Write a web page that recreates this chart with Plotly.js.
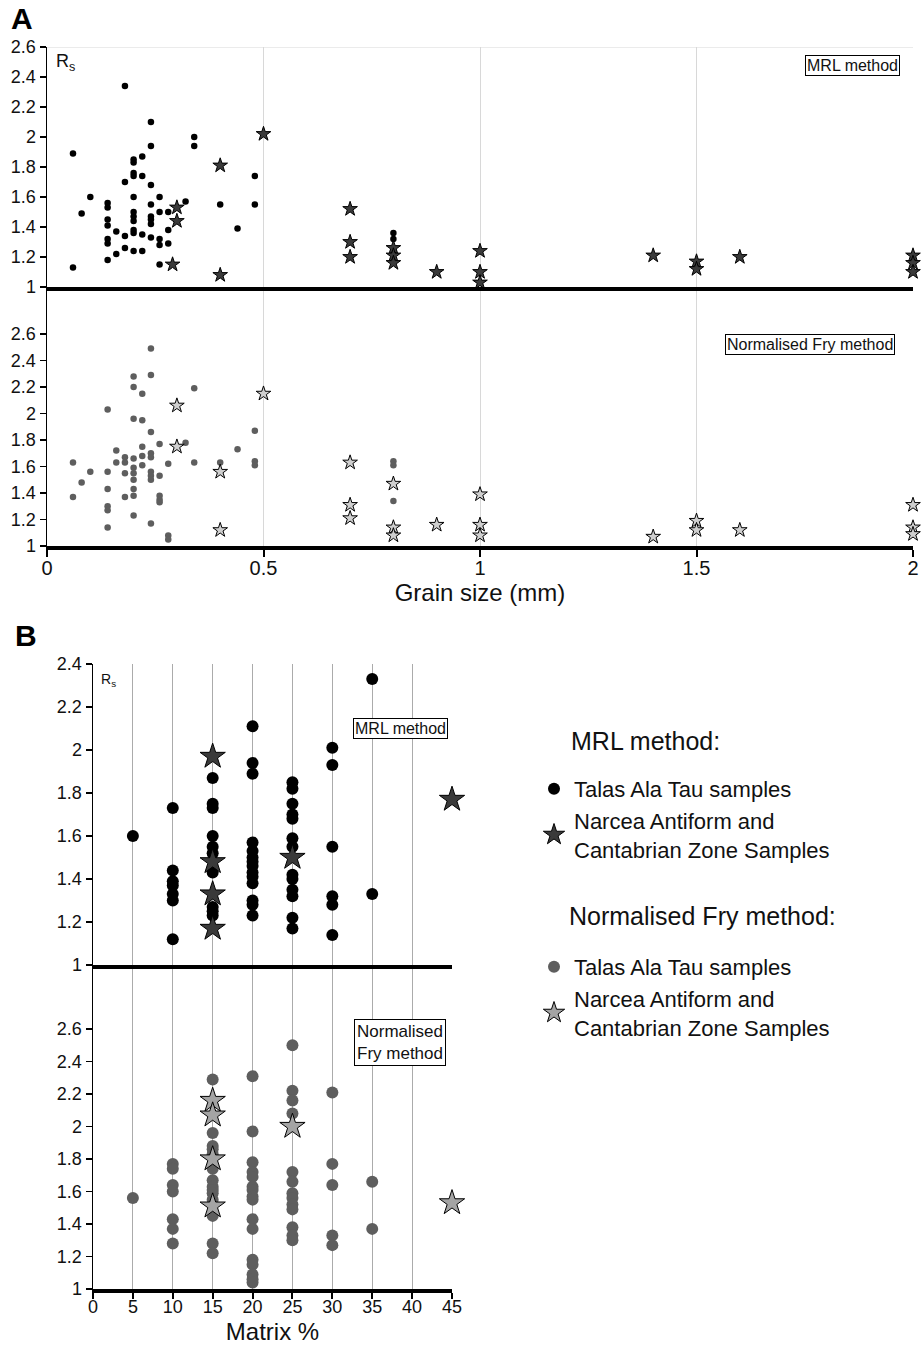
<!DOCTYPE html>
<html><head><meta charset="utf-8">
<script src="https://cdn.plot.ly/plotly-3.0.1.min.js"></script>
<style>html,body{margin:0;padding:0;background:#fff;}</style>
</head><body>
<div id="chart" style="width:922px;height:1345px;"></div>
<script>
// ---------------- DATA ----------------
// Panel A: grain size (mm) vs Rs
const grainTicks = [0, 0.5, 1, 1.5, 2];
const grainTickText = ['0', '0.5', '1', '1.5', '2'];
const rsTicksTop = [1, 1.2, 1.4, 1.6, 1.8, 2, 2.2, 2.4, 2.6];
const rsTicksTopText = ['1', '1.2', '1.4', '1.6', '1.8', '2', '2.2', '2.4', '2.6'];

// MRL method, Talas Ala Tau samples (panel A)
const grainMrlTalasX = [0.06,0.06,0.08,0.10,
  0.14,0.14,0.14,0.14,0.14,0.14,0.14,
  0.16,0.16,
  0.18,0.18,0.18,0.18,
  0.20,0.20,0.20,0.20,0.20,0.20,0.20,0.20,0.20,0.20,0.20,
  0.22,0.22,0.22,0.22,
  0.24,0.24,0.24,0.24,0.24,0.24,0.24,0.24,
  0.26,0.26,0.26,0.26,0.26,
  0.28,0.28,0.28,
  0.32,0.34,0.34,0.40,0.44,0.48,0.48,
  0.80,0.80,0.80];
const grainMrlTalasY = [1.89,1.13,1.49,1.60,
  1.56,1.53,1.45,1.41,1.32,1.29,1.18,
  1.37,1.22,
  2.34,1.70,1.34,1.26,
  1.85,1.83,1.76,1.74,1.60,1.50,1.47,1.44,1.38,1.36,1.24,
  1.87,1.74,1.35,1.24,
  2.10,1.94,1.68,1.55,1.47,1.45,1.42,1.33,
  1.60,1.50,1.32,1.28,1.15,
  1.50,1.38,1.29,
  1.57,2.00,1.94,1.55,1.39,1.74,1.55,
  1.36,1.32,1.24];
// MRL method, Narcea Antiform and Cantabrian Zone samples (panel A)
const grainMrlNarceaX = [0.30,0.30,0.29,0.40,0.40,0.50,0.70,0.70,0.70,0.80,0.80,0.80,0.90,1.00,1.00,1.00,1.40,1.50,1.50,1.60,2.00,2.00,2.00];
const grainMrlNarceaY = [1.53,1.44,1.15,1.81,1.08,2.02,1.52,1.30,1.20,1.26,1.21,1.16,1.10,1.24,1.10,1.03,1.21,1.17,1.12,1.20,1.21,1.16,1.10];

// Normalised Fry method, Talas Ala Tau samples (panel A)
const grainFryTalasX = [0.06,0.06,0.08,0.10,
  0.14,0.14,0.14,0.14,0.14,0.14,
  0.16,0.16,
  0.18,0.18,0.18,0.18,
  0.20,0.20,0.20,0.20,0.20,0.20,0.20,0.20,0.20,0.20,
  0.22,0.22,0.22,0.22,0.22,
  0.24,0.24,0.24,0.24,0.24,0.24,0.24,0.24,0.24,
  0.26,0.26,0.26,0.26,0.26,
  0.28,0.28,0.28,
  0.32,0.34,0.34,0.40,0.44,0.48,0.48,0.48,
  0.80,0.80,0.80];
const grainFryTalasY = [1.63,1.37,1.48,1.56,
  2.03,1.56,1.43,1.30,1.27,1.14,
  1.72,1.63,
  1.67,1.63,1.55,1.37,
  2.28,2.20,1.96,1.66,1.59,1.55,1.50,1.43,1.38,1.23,
  2.15,1.95,1.75,1.68,1.61,
  2.49,2.29,1.86,1.70,1.67,1.56,1.53,1.50,1.17,
  1.77,1.53,1.38,1.35,1.33,
  1.62,1.08,1.05,
  1.78,2.19,1.63,1.63,1.73,1.87,1.64,1.61,
  1.64,1.61,1.34];
// Normalised Fry method, Narcea Antiform and Cantabrian Zone samples (panel A)
const grainFryNarceaX = [0.30,0.30,0.40,0.40,0.50,0.70,0.70,0.70,0.80,0.80,0.80,0.90,1.00,1.00,1.00,1.40,1.50,1.50,1.60,2.00,2.00,2.00];
const grainFryNarceaY = [2.06,1.75,1.56,1.12,2.15,1.63,1.31,1.21,1.47,1.14,1.08,1.16,1.39,1.16,1.08,1.07,1.19,1.12,1.12,1.31,1.14,1.09];

// Panel B: matrix % vs Rs
const matrixTicks = [0, 5, 10, 15, 20, 25, 30, 35, 40, 45];
const matrixTickText = ['0','5','10','15','20','25','30','35','40','45'];
const rsTicksB = [1, 1.2, 1.4, 1.6, 1.8, 2, 2.2, 2.4];
const rsTicksBText = ['1','1.2','1.4','1.6','1.8','2','2.2','2.4'];

const matrixMrlTalasX = [5,
  10,10,10,10,10,10,10,
  15,15,15,15,15,15,15,15,15,15,
  20,20,20,20,20,20,20,20,20,20,20,20,20,20,
  25,25,25,25,25,25,25,25,25,25,25,25,25,
  30,30,30,30,30,30,
  35,35];
const matrixMrlTalasY = [1.60,
  1.73,1.44,1.39,1.37,1.33,1.30,1.12,
  1.87,1.75,1.73,1.60,1.55,1.52,1.43,1.27,1.25,1.23,
  2.11,1.94,1.89,1.57,1.53,1.50,1.48,1.46,1.43,1.41,1.38,1.30,1.28,1.23,
  1.85,1.82,1.75,1.70,1.68,1.59,1.55,1.42,1.40,1.35,1.32,1.22,1.17,
  2.01,1.93,1.55,1.32,1.28,1.14,
  2.33,1.33];
const matrixMrlNarceaX = [15,15,15,15,25,45];
const matrixMrlNarceaY = [1.97,1.48,1.33,1.17,1.50,1.77];

const matrixFryTalasX = [5,
  10,10,10,10,10,10,10,
  15,15,15,15,15,15,15,15,15,15,15,15,15,15,
  20,20,20,20,20,20,20,20,20,20,20,20,20,20,20,20,
  25,25,25,25,25,25,25,25,25,25,25,25,25,
  30,30,30,30,30,
  35,35];
const matrixFryTalasY = [1.56,
  1.77,1.74,1.64,1.60,1.43,1.37,1.28,
  2.29,1.96,1.88,1.86,1.83,1.74,1.67,1.63,1.61,1.59,1.55,1.45,1.28,1.22,
  2.31,1.97,1.78,1.72,1.69,1.63,1.61,1.57,1.55,1.43,1.37,1.18,1.15,1.09,1.06,1.04,
  2.50,2.22,2.16,2.08,1.72,1.66,1.59,1.56,1.52,1.49,1.38,1.33,1.30,
  2.21,1.77,1.64,1.33,1.27,
  1.66,1.37];
const matrixFryNarceaX = [15,15,15,15,25,45];
const matrixFryNarceaY = [2.16,2.07,1.80,1.51,2.00,1.53];

const seriesNames = ['Talas Ala Tau samples', 'Narcea Antiform and<br>Cantabrian Zone Samples'];

// ---------------- LAYOUT HELPERS ----------------
const W = 922, H = 1345;
const px = v => v / W;
const py = v => 1 - v / H;
const FONT = '"Liberation Sans", Arial, Helvetica, sans-serif';
const INK = '#111';

const dotMrl = '#000000', dotFry = '#5e5e5e';
const starMrl = '#3a3a3a', starFryA = '#cfcfcf', starFryB = '#a4a4a4';

const traces = [
  {x: grainMrlTalasX, y: grainMrlTalasY, xaxis: 'x2', yaxis: 'y', type: 'scatter', mode: 'markers',
   marker: {color: dotMrl, size: 6.5}, showlegend: false, cliponaxis: false},
  {x: grainMrlNarceaX, y: grainMrlNarceaY, xaxis: 'x2', yaxis: 'y', type: 'scatter', mode: 'markers',
   marker: {symbol: 'star', color: starMrl, size: 11, line: {color: '#000', width: 1}}, showlegend: false, cliponaxis: false},
  {x: grainFryTalasX, y: grainFryTalasY, xaxis: 'x', yaxis: 'y2', type: 'scatter', mode: 'markers',
   marker: {color: dotFry, size: 6.5}, showlegend: false, cliponaxis: false},
  {x: grainFryNarceaX, y: grainFryNarceaY, xaxis: 'x', yaxis: 'y2', type: 'scatter', mode: 'markers',
   marker: {symbol: 'star', color: starFryA, size: 11, line: {color: '#000', width: 1}}, showlegend: false, cliponaxis: false},

  {x: matrixMrlTalasX, y: matrixMrlTalasY, xaxis: 'x4', yaxis: 'y3', type: 'scatter', mode: 'markers',
   name: seriesNames[0], legend: 'legend',
   marker: {color: dotMrl, size: 12}, cliponaxis: false},
  {x: matrixMrlNarceaX, y: matrixMrlNarceaY, xaxis: 'x4', yaxis: 'y3', type: 'scatter', mode: 'markers',
   name: seriesNames[1], legend: 'legend',
   marker: {symbol: 'star', color: starMrl, size: 19, line: {color: '#000', width: 1}}, cliponaxis: false},
  {x: matrixFryTalasX, y: matrixFryTalasY, xaxis: 'x3', yaxis: 'y4', type: 'scatter', mode: 'markers',
   name: seriesNames[0], legend: 'legend2',
   marker: {color: dotFry, size: 12}, cliponaxis: false},
  {x: matrixFryNarceaX, y: matrixFryNarceaY, xaxis: 'x3', yaxis: 'y4', type: 'scatter', mode: 'markers',
   name: seriesNames[1], legend: 'legend2',
   marker: {symbol: 'star', color: starFryB, size: 19, line: {color: '#000', width: 1}}, cliponaxis: false}
];

const yBase = {
  showgrid: false, zeroline: false, showline: true, linecolor: '#000', linewidth: 1.5,
  ticks: 'outside', ticklen: 6, tickwidth: 1.5, tickcolor: '#000',
  tickfont: {family: FONT, size: 18, color: INK}, fixedrange: true
};

const layout = {
  width: W, height: H, autosize: false,
  margin: {l: 0, r: 0, t: 0, b: 0, pad: 0},
  paper_bgcolor: '#fff', plot_bgcolor: 'rgba(0,0,0,0)',
  font: {family: FONT, color: INK},
  showlegend: true,
  // Panel A
  xaxis: {
    domain: [px(47), px(913)], range: [0, 2], anchor: 'y2',
    tickvals: grainTicks, ticktext: grainTickText,
    showgrid: true, gridcolor: '#d8d8d8', gridwidth: 1, zeroline: false,
    showline: true, linecolor: '#000', linewidth: 4,
    ticks: 'outside', ticklen: 7, tickwidth: 2, tickcolor: '#000',
    tickfont: {family: FONT, size: 20, color: INK}, ticklabelstandoff: -6,
    title: {text: 'Grain size (mm)', font: {family: FONT, size: 24, color: INK}, standoff: 4}
  },
  xaxis2: {
    domain: [px(47), px(913)], range: [0, 2], anchor: 'y', matches: 'x',
    tickvals: grainTicks, showticklabels: false, ticks: '',
    showgrid: true, gridcolor: '#d8d8d8', gridwidth: 1, zeroline: false,
    showline: true, linecolor: '#000', linewidth: 4
  },
  yaxis: Object.assign({}, yBase, {
    domain: [py(287), py(47)], range: [1, 2.6], anchor: 'x2',
    tickvals: rsTicksTop, ticktext: rsTicksTopText
  }),
  yaxis2: Object.assign({}, yBase, {
    domain: [py(546), py(287)], range: [1, 2.955], anchor: 'x',
    tickvals: rsTicksTop, ticktext: rsTicksTopText
  }),
  // Panel B
  xaxis3: {
    domain: [px(93), px(452)], range: [0, 45], anchor: 'y4',
    tickvals: matrixTicks, ticktext: matrixTickText,
    showgrid: true, gridcolor: '#ababab', gridwidth: 1.2, zeroline: false,
    showline: true, linecolor: '#000', linewidth: 4,
    ticks: 'outside', ticklen: 6, tickwidth: 2, tickcolor: '#000',
    tickfont: {family: FONT, size: 18, color: INK}, ticklabelstandoff: -8,
    title: {text: 'Matrix %', font: {family: FONT, size: 24, color: INK}, standoff: 11}
  },
  xaxis4: {
    domain: [px(93), px(452)], range: [0, 45], anchor: 'y3', matches: 'x3',
    tickvals: matrixTicks, showticklabels: false, ticks: '',
    showgrid: true, gridcolor: '#ababab', gridwidth: 1.2, zeroline: false,
    showline: true, linecolor: '#000', linewidth: 4
  },
  yaxis3: Object.assign({}, yBase, {
    domain: [py(965), py(664)], range: [1, 2.4], anchor: 'x4',
    tickvals: rsTicksB, ticktext: rsTicksBText
  }),
  yaxis4: Object.assign({}, yBase, {
    domain: [py(1289), py(965)], range: [1, 2.994], anchor: 'x3',
    tickvals: rsTicksTop, ticktext: rsTicksTopText
  }),
  shapes: [
    {type: 'line', xref: 'x2', yref: 'y', x0: 0, x1: 2, y0: 2.6, y1: 2.6,
     line: {color: '#d8d8d8', width: 1}, layer: 'below'}
  ],
  legend: {
    x: px(534), xanchor: 'left', y: py(768), yanchor: 'top',
    font: {family: FONT, size: 22, color: INK}, bgcolor: 'rgba(0,0,0,0)',
    borderwidth: 0, itemsizing: 'trace', tracegroupgap: 0, traceorder: 'normal'
  },
  legend2: {
    x: px(534), xanchor: 'left', y: py(946), yanchor: 'top',
    font: {family: FONT, size: 22, color: INK}, bgcolor: 'rgba(0,0,0,0)',
    borderwidth: 0, itemsizing: 'trace', tracegroupgap: 0, traceorder: 'normal'
  },
  annotations: [
    {text: '<b>A</b>', xref: 'paper', yref: 'paper', x: px(9), y: py(18), xanchor: 'left', yanchor: 'middle',
     showarrow: false, font: {family: FONT, size: 30, color: '#000'}},
    {text: '<b>B</b>', xref: 'paper', yref: 'paper', x: px(13), y: py(635), xanchor: 'left', yanchor: 'middle',
     showarrow: false, font: {family: FONT, size: 30, color: '#000'}},
    {text: 'R<sub>s</sub>', xref: 'paper', yref: 'paper', x: px(54), y: py(63), xanchor: 'left', yanchor: 'middle',
     showarrow: false, font: {family: FONT, size: 18, color: INK}},
    {text: 'R<sub>s</sub>', xref: 'paper', yref: 'paper', x: px(99), y: py(680), xanchor: 'left', yanchor: 'middle',
     showarrow: false, font: {family: FONT, size: 14, color: INK}},
    {text: 'MRL method', xref: 'paper', yref: 'paper', x: px(852), y: py(66), xanchor: 'center', yanchor: 'middle',
     showarrow: false, bordercolor: '#000', borderwidth: 1, borderpad: 1, bgcolor: '#fff',
     font: {family: FONT, size: 16, color: INK}},
    {text: 'Normalised Fry method', xref: 'paper', yref: 'paper', x: px(810), y: py(344), xanchor: 'center', yanchor: 'middle',
     showarrow: false, bordercolor: '#000', borderwidth: 1, borderpad: 1, bgcolor: '#fff',
     font: {family: FONT, size: 16, color: INK}},
    {text: 'MRL method', xref: 'paper', yref: 'paper', x: px(400), y: py(729), xanchor: 'center', yanchor: 'middle',
     showarrow: false, bordercolor: '#000', borderwidth: 1, borderpad: 1, bgcolor: '#fff',
     font: {family: FONT, size: 16, color: INK}},
    {text: 'Normalised<br>Fry method', xref: 'paper', yref: 'paper', x: px(400), y: py(1042), xanchor: 'center', yanchor: 'middle',
     align: 'left', showarrow: false, bordercolor: '#000', borderwidth: 1, borderpad: 2, bgcolor: '#fff',
     font: {family: FONT, size: 17, color: INK}},
    {text: 'MRL method:', xref: 'paper', yref: 'paper', x: px(569), y: py(741), xanchor: 'left', yanchor: 'middle',
     showarrow: false, font: {family: FONT, size: 25, color: INK}},
    {text: 'Normalised Fry method:', xref: 'paper', yref: 'paper', x: px(567), y: py(916), xanchor: 'left', yanchor: 'middle',
     showarrow: false, font: {family: FONT, size: 25, color: INK}}
  ]
};

Plotly.newPlot('chart', traces, layout, {staticPlot: true, displayModeBar: false});
</script>
</body></html>
